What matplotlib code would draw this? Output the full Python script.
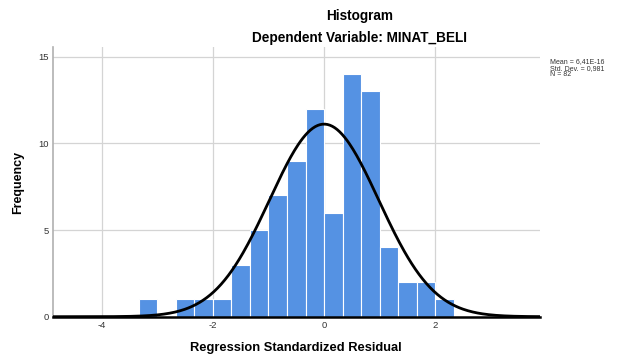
import numpy as np
import matplotlib
matplotlib.use("Agg")
import matplotlib.pyplot as plt

#  ############################# Data ##########################################

bin_width = 1.0 / 3.0
bin_left_edges = np.arange(-10, 7) * bin_width      # -3.33 ... 2.0
counts = [1, 0, 1, 1, 1, 3, 5, 7, 9, 12, 6, 14, 13, 4, 2, 2, 1]

mean_val = 6.41e-16
std_val = 0.981
n_obs = 82

x_ticks = [-4, -2, 0, 2]
y_ticks = [0, 5, 10, 15]

#  ############################# Plot parameters ##############################

plt.rcParams['font.family'] = ['Liberation Sans', 'DejaVu Sans']
plt.rcParams['axes.unicode_minus'] = False

bar_color = '#5592e3'
grid_color = '#d4d4d4'

#  ################################ Ploting ###################################

fig = plt.figure(figsize=(6.17, 3.54), dpi=100)
ax = fig.add_axes([0.0854, 0.1054, 0.7896, 0.761])

ax.bar(bin_left_edges, counts, width=bin_width, align='edge',
       color=bar_color, edgecolor='white', linewidth=0.8, zorder=2)

# fitted normal curve
xs = np.linspace(-4.88, 3.88, 400)
pdf = np.exp(-0.5 * ((xs - mean_val) / std_val) ** 2) / (std_val * np.sqrt(2 * np.pi))
ax.plot(xs, n_obs * bin_width * pdf, color='black', linewidth=2.0, zorder=3)

ax.set_xlim(-4.88, 3.88)
ax.set_ylim(0, 15.55)
ax.set_xticks(x_ticks)
ax.set_yticks(y_ticks)
ax.tick_params(length=0, labelsize=6.8, colors='#333333', pad=3)
ax.grid(True, color=grid_color, linewidth=0.9, zorder=0)
ax.set_axisbelow(True)

for side in ['top', 'right']:
    ax.spines[side].set_visible(False)
ax.spines['left'].set_color('#b0b0b0')
ax.spines['left'].set_linewidth(1.2)
ax.spines['bottom'].set_color('black')
ax.spines['bottom'].set_linewidth(1.8)
ax.spines['bottom'].set_zorder(4)

ax.set_xlabel('Regression Standardized Residual', fontsize=9.3,
              fontweight='bold', labelpad=9)
ax.set_ylabel('Frequency', fontsize=9, fontweight='bold', labelpad=10)

fig.text(360 / 617, 1 - 16 / 354, 'Histogram', ha='center', va='center',
         fontsize=9.8, fontweight='bold')
fig.text(360 / 617, 1 - 38 / 354, 'Dependent Variable: MINAT_BELI',
         ha='center', va='center', fontsize=9.8, fontweight='bold')

stats_lines = ['Mean = 6,41E-16', 'Std. Dev. = 0,981', 'N = 82']
for k, line in enumerate(stats_lines):
    fig.text(550 / 617, 1 - (62 + 6.3 * k) / 354, line, ha='left',
             va='center', fontsize=5.0, color='#333333')

plt.savefig("out.png", dpi=100)
